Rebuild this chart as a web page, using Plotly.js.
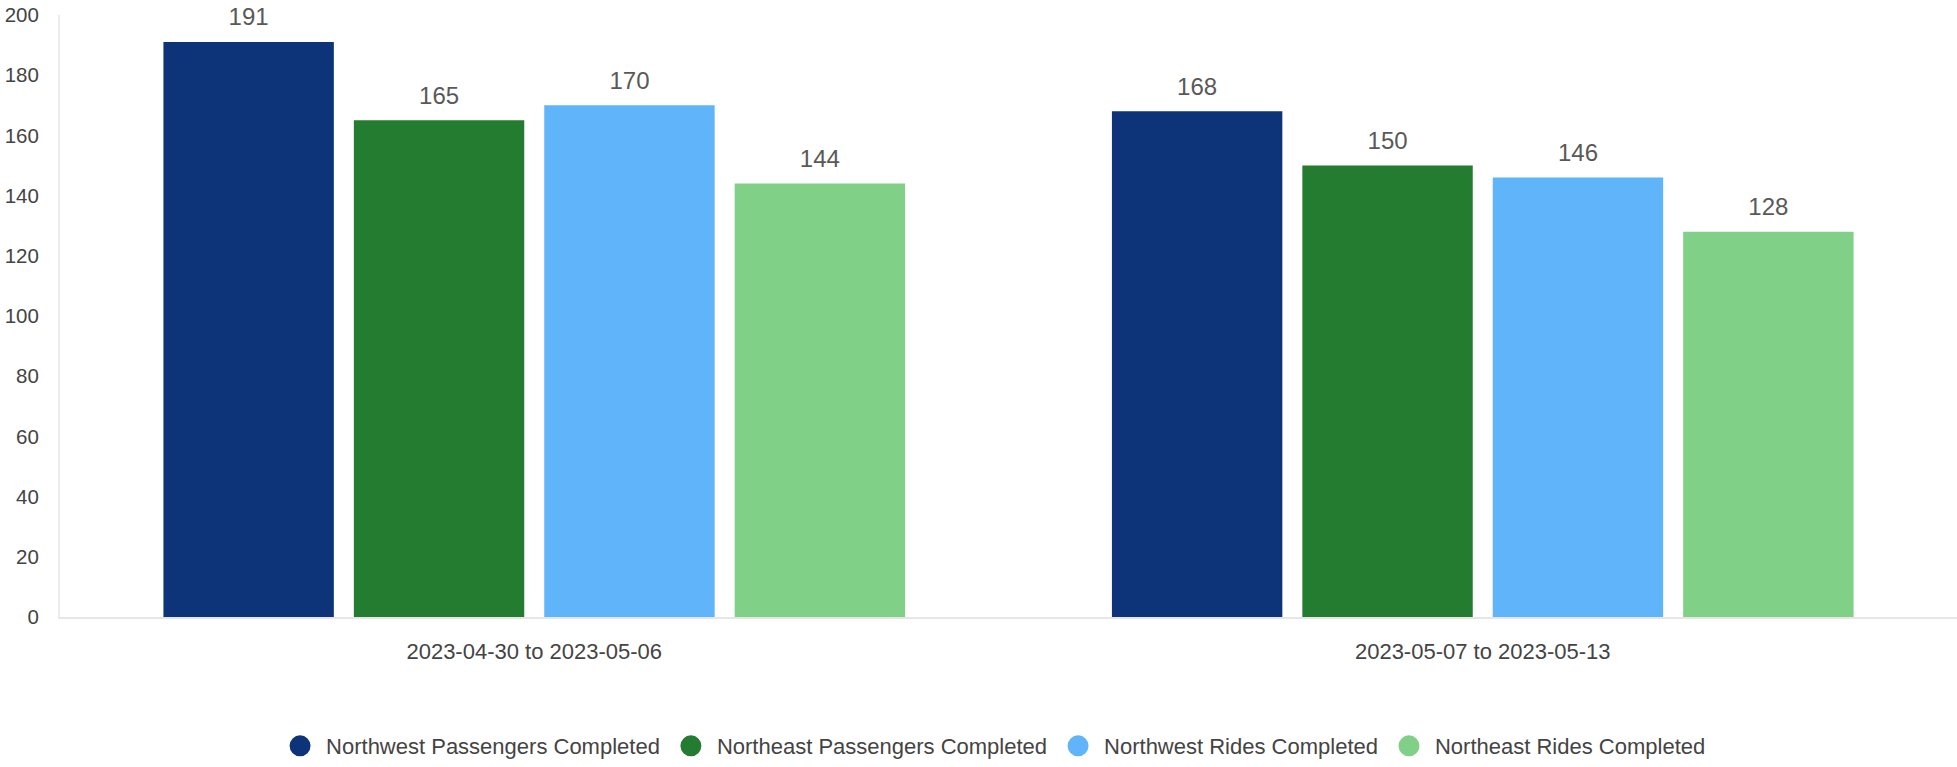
<!DOCTYPE html>
<html>
<head>
<meta charset="utf-8">
<script src="https://cdn.plot.ly/plotly-3.0.1.min.js"></script>
<style>
  html, body { margin: 0; padding: 0; background: #ffffff; }
  #chart { width: 1957px; height: 767px; }
</style>
</head>
<body>
<div id="chart"></div>
<script>
// ---- data ----
const categories = ["2023-04-30 to 2023-05-06", "2023-05-07 to 2023-05-13"];
const seriesNames = [
  "Northwest Passengers Completed",
  "Northeast Passengers Completed",
  "Northwest Rides Completed",
  "Northeast Rides Completed"
];
const northwestPassengers = [191, 168];
const northeastPassengers = [165, 150];
const northwestRides = [170, 146];
const northeastRides = [144, 128];
const yTickValues = [0, 20, 40, 60, 80, 100, 120, 140, 160, 180, 200];

const seriesValues = [northwestPassengers, northeastPassengers, northwestRides, northeastRides];
const seriesColors = ["#0D3479", "#237C2F", "#60B4FA", "#80D187"];

const fam = '"Liberation Sans", Arial, sans-serif';

const traces = [];
seriesNames.forEach((name, i) => {
  traces.push({
    type: "bar",
    name: name,
    x: categories,
    y: seriesValues[i],
    // value label, with a small spacer line below it to lift it off the bar
    text: seriesValues[i].map(v => "<span style='font-size:24px'>" + v + "</span><br>&nbsp;"),
    textposition: "outside",
    constraintext: "none",
    cliponaxis: false,
    textfont: { family: fam, size: 9, color: "#595959" },
    marker: { color: seriesColors[i] },
    showlegend: false,
    legendgroup: "g" + i,
    hovertemplate: "%{x}<br>" + name + ": %{y}<extra></extra>"
  });
});
seriesNames.forEach((name, i) => {
  traces.push({
    type: "scatter",
    mode: "markers",
    name: name,
    x: [categories[0]],
    y: [null],
    marker: { color: seriesColors[i], size: 16, symbol: "circle",
              line: { color: seriesColors[i], width: 5 } },
    legendgroup: "g" + i,
    showlegend: true,
    hoverinfo: "skip"
  });
});

const layout = {
  width: 1957,
  height: 767,
  margin: { l: 60, r: 0, t: 15, b: 146 },
  paper_bgcolor: "#ffffff",
  plot_bgcolor: "#ffffff",
  barmode: "group",
  bargap: 0.197,
  bargroupgap: 0.105,
  font: { family: fam, color: "#444444" },
  xaxis: {
    type: "category",
    showgrid: false,
    zeroline: false,
    showline: true,
    linecolor: "#e6e6e6",
    linewidth: 2,
    ticks: "",
    ticklabelstandoff: 14,
    tickfont: { family: fam, size: 22, color: "#444444" }
  },
  yaxis: {
    range: [0, 200],
    tickvals: yTickValues,
    ticktext: yTickValues.map(String),
    showgrid: false,
    zeroline: false,
    showline: true,
    linecolor: "#ececec",
    linewidth: 2,
    ticks: "",
    ticklabelstandoff: 15,
    tickfont: { family: fam, size: 20.5, color: "#444444" }
  },
  legend: {
    orientation: "h",
    x: 0.4916,
    xanchor: "center",
    y: -0.215,
    yanchor: "middle",
    itemwidth: 42,
    bgcolor: "rgba(0,0,0,0)",
    font: { family: fam, size: 22, color: "#444444" },
    itemclick: false,
    itemdoubleclick: false
  },
  showlegend: true
};

Plotly.newPlot("chart", traces, layout, { displayModeBar: false });
</script>
</body>
</html>
